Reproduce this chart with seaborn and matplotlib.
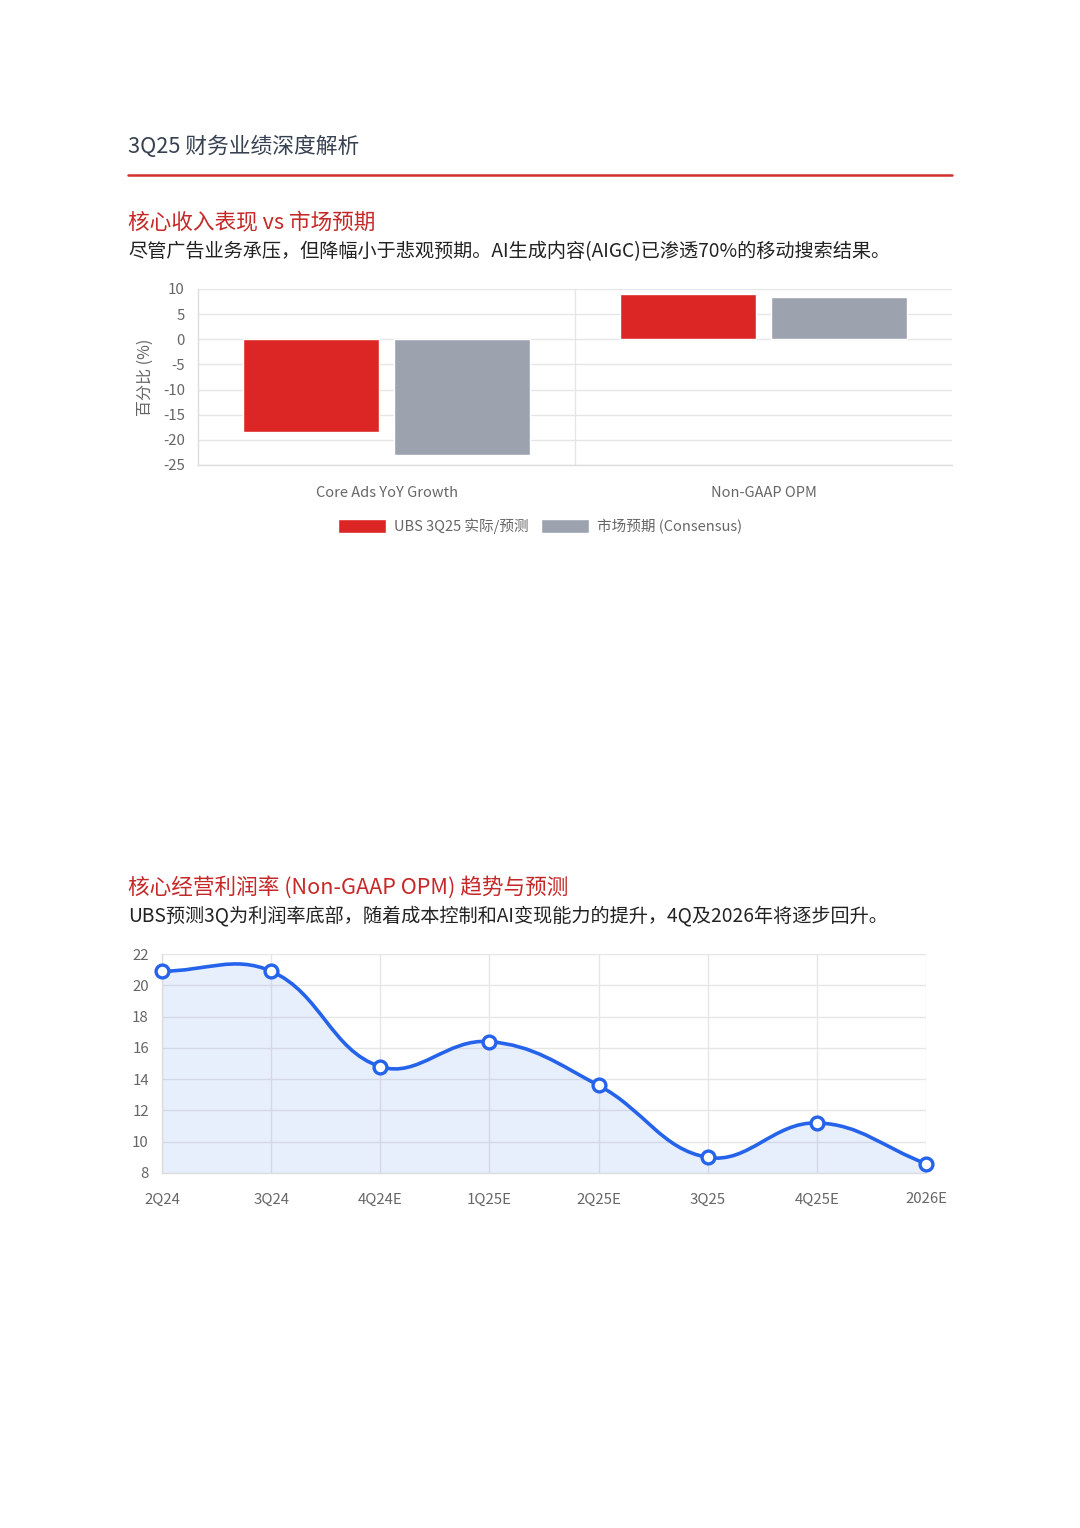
import numpy as np
import pandas as pd
import matplotlib
matplotlib.use("Agg")
import matplotlib.pyplot as plt
import seaborn as sns
from matplotlib.path import Path
from matplotlib.patches import PathPatch, Patch
from matplotlib.lines import Line2D

# bar chart data
metrics = ["Core Ads YoY Growth", "Non-GAAP OPM"]
ubs_values = [-18.5, 9.0]
consensus_values = [-23.0, 8.5]
series_names = ["UBS 3Q25 实际/预测", "市场预期 (Consensus)"]

# line chart data
quarters = ["2Q24", "3Q24", "4Q24E", "1Q25E", "2Q25E", "3Q25", "4Q25E", "2026E"]
opm_values = [20.9, 20.9, 14.8, 16.4, 13.6, 9.0, 11.2, 8.6]

RED = "#DC2626"
GRAY = "#9CA3AF"
BLUE = "#2563EB"
GRID = "#E6E6E6"
TICK = "#666666"

sns.set_theme(style="white")
plt.rcParams["font.family"] = ["Noto Sans CJK SC", "DejaVu Sans"]
plt.rcParams["axes.unicode_minus"] = False

W, H = 1080, 1528
fig = plt.figure(figsize=(W / 100, H / 100), dpi=100)


def fx(px):
    return px / W


def fy(py):
    return 1 - py / H


# header
fig.text(fx(128), fy(147), "3Q25 财务业绩深度解析", fontsize=15.7, color="#374151", va="center")
fig.add_artist(Line2D([fx(128), fx(952)], [fy(175), fy(175)], color="#D32F2F", lw=1.8))

fig.text(fx(128), fy(222), "核心收入表现 vs 市场预期", fontsize=15.6, color="#C62828", va="center")
fig.text(fx(128), fy(252), "尽管广告业务承压，但降幅小于悲观预期。AI生成内容(AIGC)已渗透70%的移动搜索结果。",
         fontsize=13.8, color="#222222", va="center")

fig.text(fx(128), fy(887), "核心经营利润率 (Non-GAAP OPM) 趋势与预测", fontsize=15.6, color="#C62828", va="center")
fig.text(fx(128), fy(916), "UBS预测3Q为利润率底部，随着成本控制和AI变现能力的提升，4Q及2026年将逐步回升。",
         fontsize=13.8, color="#222222", va="center")

# ---- bar chart ----
ax1 = fig.add_axes([fx(198), fy(465), (952 - 198) / W, (465 - 289) / H])
bar_df = pd.DataFrame({
    "metric": metrics * 2,
    "series": [series_names[0]] * 2 + [series_names[1]] * 2,
    "value": ubs_values + consensus_values,
})
sns.barplot(data=bar_df, x="metric", y="value", hue="series", palette=[RED, GRAY],
            width=0.8, gap=0.1, saturation=1, legend=False, ax=ax1, zorder=3)
ax1.set_xlim(-0.5, 1.5)
ax1.set_ylim(-25, 10)
ax1.set_yticks(np.arange(-25, 11, 5))
ax1.yaxis.grid(True, color=GRID, lw=1)
ax1.axvline(0.5, color=GRID, lw=1, zorder=0)
ax1.set_xlabel("")
ax1.set_ylabel("百分比 (%)", fontsize=11.5, color=TICK)
ax1.yaxis.set_label_coords((154 - 198) / 754, 0.5)
ax1.tick_params(axis="y", length=6, width=1, color=GRID, pad=3.5, labelsize=10.8, labelcolor=TICK)
ax1.tick_params(axis="x", which="major", length=0, pad=15, labelsize=10.5, labelcolor=TICK)
ax1.set_xticks([0.5], minor=True)
ax1.tick_params(axis="x", which="minor", length=6, width=1, color=GRID)
for s in ["top", "right"]:
    ax1.spines[s].set_visible(False)
for s in ["left", "bottom"]:
    ax1.spines[s].set_color("#DDDDDD")
    ax1.spines[s].set_linewidth(1)

handles = [Patch(facecolor=RED, label=series_names[0]), Patch(facecolor=GRAY, label=series_names[1])]
fig.legend(handles=handles, loc="center", bbox_to_anchor=(fx(540), fy(526)), ncol=2, frameon=False,
           fontsize=10.5, labelcolor=TICK, handlelength=3.3, handleheight=1.05,
           handletextpad=0.5, columnspacing=0.9)

# ---- line chart ----
ax2 = fig.add_axes([fx(162), fy(1173), (926 - 162) / W, (1173 - 954) / H])
xs = np.arange(len(quarters))
ax2.set_xlim(0, len(quarters) - 1)
ax2.set_ylim(8, 22)
ax2.set_yticks(np.arange(8, 23, 2))
ax2.set_xticks(xs, quarters)
ax2.grid(True, color=GRID, lw=1)
ax2.set_axisbelow(True)
ax2.tick_params(axis="both", length=6, width=1, color=GRID, labelsize=10.8, labelcolor=TICK)
ax2.tick_params(axis="y", pad=3.5)
ax2.tick_params(axis="x", pad=8)
for s in ["top", "right"]:
    ax2.spines[s].set_visible(False)
for s in ["left", "bottom"]:
    ax2.spines[s].set_color("#DDDDDD")
    ax2.spines[s].set_linewidth(1)

# smooth curve like Chart.js (tension 0.4), control points computed in pixel space
pts = ax2.transData.transform(np.column_stack([xs, opm_values]))
n = len(pts)
cp_in, cp_out = [], []
tension = 0.4
for i in range(n):
    prev = pts[max(i - 1, 0)]
    cur = pts[i]
    nxt = pts[min(i + 1, n - 1)]
    d01 = np.hypot(*(cur - prev))
    d12 = np.hypot(*(nxt - cur))
    s01 = d01 / (d01 + d12)
    s12 = d12 / (d01 + d12)
    cp_in.append(cur - tension * s01 * (nxt - prev))
    cp_out.append(cur + tension * s12 * (nxt - prev))

verts = [pts[0]]
codes = [Path.MOVETO]
for i in range(n - 1):
    verts += [cp_out[i], cp_in[i + 1], pts[i + 1]]
    codes += [Path.CURVE4] * 3
inv = ax2.transData.inverted()
curve = inv.transform(np.array(verts))

fill_verts = list(curve) + [(xs[-1], 8), (xs[0], 8), (xs[0], 8)]
fill_codes = codes + [Path.LINETO, Path.LINETO, Path.CLOSEPOLY]
ax2.add_patch(PathPatch(Path(fill_verts, fill_codes), facecolor=BLUE, alpha=0.1, edgecolor="none", zorder=2))
ax2.add_patch(PathPatch(Path(curve, codes), facecolor="none", edgecolor=BLUE, lw=2.6, zorder=3,
                        capstyle="round", joinstyle="round"))

sns.scatterplot(x=xs, y=opm_values, s=85, color="white", edgecolor=BLUE, linewidth=2.4,
                zorder=5, clip_on=False, ax=ax2)

fig.savefig("out.png", dpi=100)
